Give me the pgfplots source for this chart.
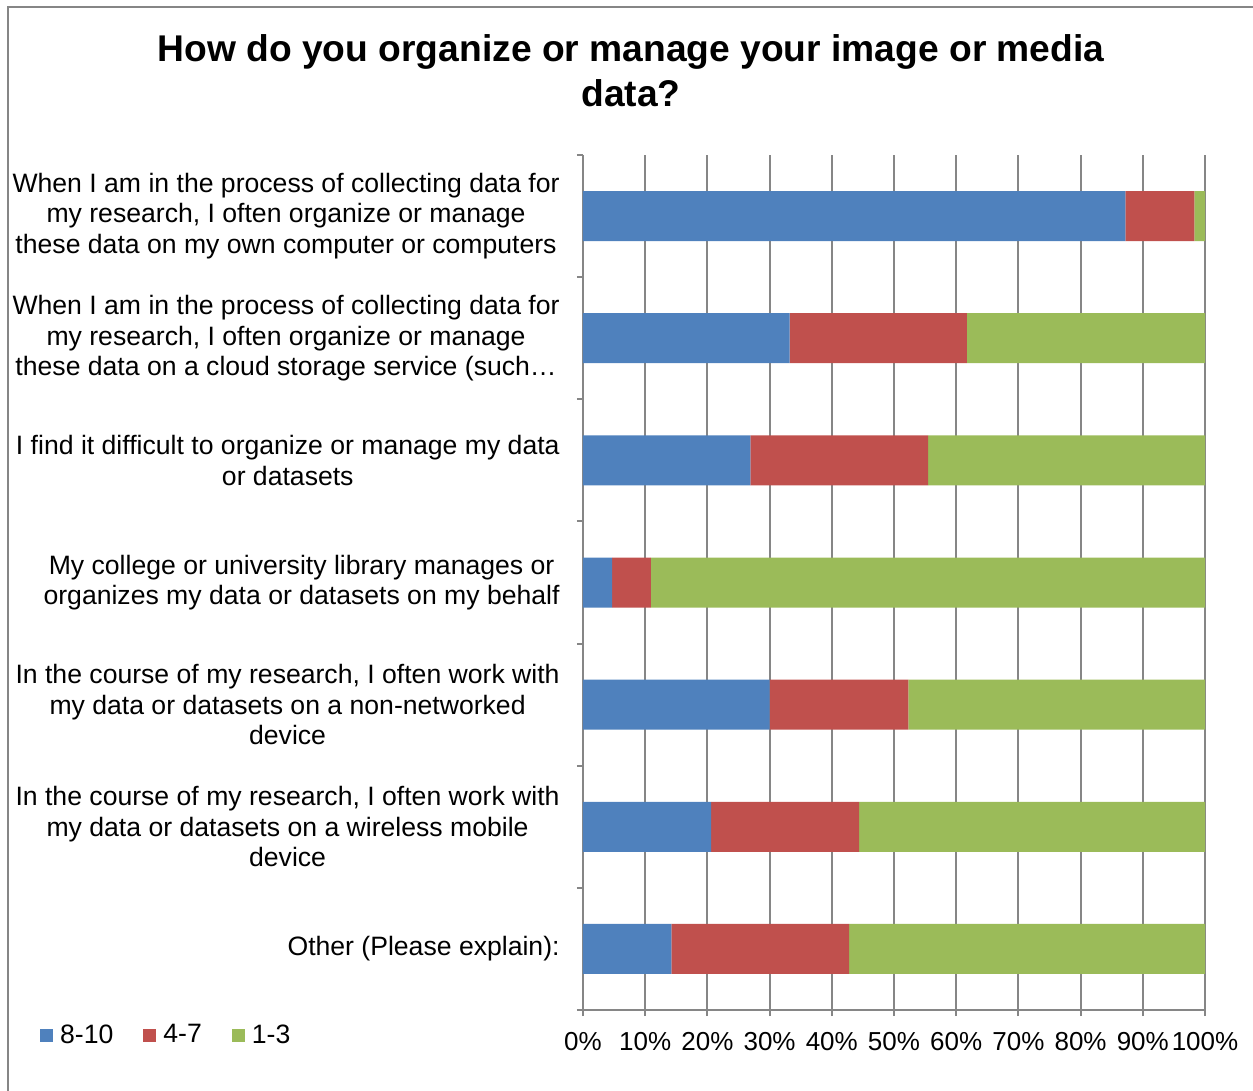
\documentclass[border=0pt]{standalone}
\usepackage{fontspec}
\setmainfont{Liberation Sans}
\usepackage{pgfplots}
\pgfplotsset{compat=1.18}
\definecolor{cblue}{HTML}{4F81BD}
\definecolor{cred}{HTML}{C0504D}
\definecolor{cgreen}{HTML}{9BBB59}
\definecolor{cgrid}{HTML}{868686}
\begin{document}
\begin{tikzpicture}
\path[use as bounding box] (0pt,0pt) rectangle (626.5pt,545.5pt);
\draw[cgrid,line width=1pt] (3.75pt,0pt) -- (3.75pt,541.75pt) -- (626.5pt,541.75pt);
\begin{axis}[
  at={(291.5pt,40.5pt)}, anchor=south west,
  scale only axis, width=311pt, height=427.5pt,
  xbar stacked, bar width=25pt,
  xmin=0, xmax=100, ymin=0.5, ymax=7.5, y dir=reverse,
  axis lines*=left,
  axis line style={cgrid,line width=1pt},
  xtick={0,10,...,100},
  xticklabel={\pgfmathprintnumber{\tick}\%},
  xmajorgrids, major grid style={cgrid,line width=1pt},
  major tick length=3pt,
  tick style={cgrid,line width=1pt},
  xtick pos=bottom, tick align=outside,
  ytick={1,2,3,4,5,6,7},
  ytick style={draw=none},
  yticklabels={
    {When I am in the process of collecting data for\\my research, I often organize or manage\\these data on my own computer or computers},
    {When I am in the process of collecting data for\\my research, I often organize or manage\\these data on a cloud storage service (such\ldots},
    {I find it difficult to organize or manage my data\\or datasets},
    {My college or university library manages or\\organizes my data or datasets on my behalf},
    {In the course of my research, I often work with\\my data or datasets on a non-networked\\device},
    {In the course of my research, I often work with\\my data or datasets on a wireless mobile\\device},
    {Other (Please explain):}},
  yticklabel style={align=center,font=\fontsize{13.3}{15.3}\selectfont,inner sep=0pt,xshift=-8.5pt},
  xticklabel style={font=\fontsize{13}{15}\selectfont,inner sep=0pt,yshift=-8pt},
  /pgf/number format/assume math mode=true,
  extra y ticks={0.5,1.5,2.5,3.5,4.5,5.5,6.5,7.5},
  extra y tick labels={},
  extra y tick style={ytick style={draw=cgrid,line width=1pt}, major tick length=3pt, tick align=outside, ytick pos=left},
  legend columns=3,
  legend style={at={(-0.883,-0.0295)}, anchor=west, draw=none, fill=none,
    font=\fontsize{13.3}{15}\selectfont,
    /tikz/every even column/.append style={column sep=15pt},
    nodes={inner sep=0pt, anchor=west}},
  legend image code/.code={\fill[#1] (0pt,-3.25pt) rectangle (6.5pt,3.25pt);},
]
\addplot[fill=cblue,draw=none] coordinates {(87.2,1) (33.2,2) (26.9,3) (4.7,4) (30.0,5) (20.6,6) (14.2,7)};
\addplot[fill=cred,draw=none] coordinates {(11.1,1) (28.5,2) (28.6,3) (6.2,4) (22.3,5) (23.8,6) (28.6,7)};
\addplot[fill=cgreen,draw=none] coordinates {(1.7,1) (38.3,2) (44.5,3) (89.1,4) (47.7,5) (55.6,6) (57.2,7)};
\legend{\hspace{3.5pt}8-10,\hspace{3.5pt}4-7,\hspace{3.5pt}1-3}
\end{axis}
\node[align=center, font=\bfseries\fontsize{18.6}{22.5}\selectfont, inner sep=0pt] at (315.5pt,510.25pt)
  {How do you organize or manage your image or media\\data?};
\end{tikzpicture}
\end{document}
